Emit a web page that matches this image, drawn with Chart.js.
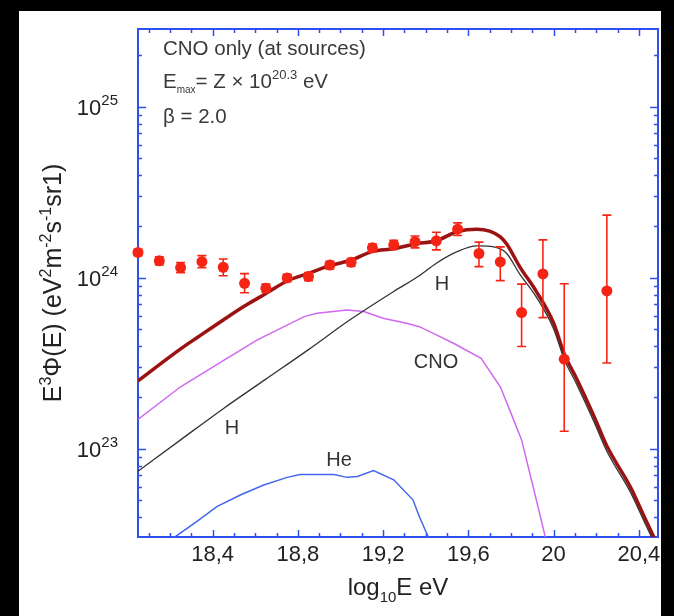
<!DOCTYPE html>
<html>
<head>
<meta charset="utf-8">
<script src="https://cdn.jsdelivr.net/npm/chart.js@4.4.1/dist/chart.umd.min.js"></script>
<style>
  html, body { margin: 0; padding: 0; background: #000; }
  #chart { display: block; }
</style>
</head>
<body>
<canvas id="chart" width="674" height="616"></canvas>
<script>
// Auger spectrum points: log10(E/eV) and E^3 flux (eV^2 m^-2 s^-1 sr^-1)
const augerLogE = [18.05, 18.15, 18.25, 18.35, 18.45, 18.55, 18.65, 18.75, 18.85, 18.95, 19.05,
                   19.15, 19.25, 19.35, 19.45, 19.55, 19.65, 19.75, 19.85, 19.95, 20.05, 20.25];
const augerFlux = [1.41e24, 1.26e24, 1.15e24, 1.245e24, 1.155e24, 0.93e24, 0.87e24, 1.0e24, 1.02e24, 1.19e24, 1.235e24,
                   1.50e24, 1.56e24, 1.63e24, 1.65e24, 1.93e24, 1.39e24, 1.24e24, 0.627e24, 1.055e24, 0.335e24, 0.84e24];
const augerErrUp = [1.47e24, 1.33e24, 1.23e24, 1.35e24, 1.29e24, 1.06e24, 0.92e24, 1.05e24, 1.075e24, 1.25e24, 1.30e24,
                    1.58e24, 1.66e24, 1.76e24, 1.85e24, 2.10e24, 1.62e24, 1.52e24, 0.92e24, 1.67e24, 0.925e24, 2.33e24];
const augerErrLow = [1.35e24, 1.19e24, 1.075e24, 1.15e24, 1.03e24, 0.82e24, 0.825e24, 0.95e24, 0.965e24, 1.13e24, 1.17e24,
                     1.42e24, 1.47e24, 1.50e24, 1.46e24, 1.77e24, 1.165e24, 0.965e24, 0.397e24, 0.586e24, 0.127e24, 0.318e24];

// model curves
const totalLogE = [18.05, 18.25, 18.33, 18.45, 18.55, 18.65, 18.75, 18.85, 18.95, 19.05, 19.15, 19.25, 19.35, 19.45,
                   19.55, 19.64, 19.70, 19.75, 19.78, 19.84, 19.92, 20.0, 20.05, 20.11, 20.19, 20.25, 20.36, 20.43, 20.49];
const totalFlux = [2.5e23, 3.85e23, 4.5e23, 5.68e23, 6.85e23, 8.1e23, 9.6e23, 1.065e24, 1.18e24, 1.27e24, 1.43e24, 1.48e24, 1.58e24, 1.65e24,
                   1.87e24, 1.93e24, 1.88e24, 1.74e24, 1.58e24, 1.17e24, 8.3e23, 5.45e23, 3.6e23, 2.55e23, 1.55e23, 1.04e23, 6.0e22, 3.9e22, 2.7e22];

const hLogE = [18.05, 18.25, 18.45, 18.65, 18.85, 19.05, 19.25, 19.37, 19.45, 19.55, 19.64, 19.73, 19.78,
               19.84, 19.92, 20.0, 20.05, 20.11, 20.19, 20.25, 20.36, 20.43, 20.49];
const hFlux = [7.4e22, 1.13e23, 1.72e23, 2.56e23, 3.81e23, 5.75e23, 8.34e23, 1.03e24, 1.22e24, 1.43e24, 1.54e24, 1.51e24, 1.39e24,
               1.06e24, 7.7e23, 5.05e23, 3.35e23, 2.37e23, 1.44e23, 0.97e23, 5.6e22, 3.65e22, 2.55e22];

const cnoLogE = [18.05, 18.25, 18.45, 18.61, 18.83, 18.89, 19.03, 19.11, 19.2, 19.31, 19.37, 19.45, 19.53, 19.66,
                 19.75, 19.8, 19.85, 19.9, 19.96, 19.99];
const cnoFlux = [1.49e23, 2.31e23, 3.28e23, 4.34e23, 5.94e23, 6.22e23, 6.5e23, 6.36e23, 5.81e23, 5.43e23, 5.19e23, 4.65e23, 4.15e23, 3.39e23,
                 2.31e23, 1.62e23, 1.13e23, 6.3e22, 3.1e22, 2.4e22];

const heLogE = [18.18, 18.224, 18.33, 18.42, 18.53, 18.64, 18.75, 18.81, 18.97, 19.03, 19.08, 19.155, 19.25, 19.34, 19.37, 19.41, 19.43];
const heFlux = [2.6e22, 3.06e22, 3.8e22, 4.6e22, 5.38e22, 6.15e22, 6.82e22, 7.08e22, 7.08e22, 6.82e22, 6.9e22, 7.47e22, 6.6e22, 5.04e22,
                4.03e22, 3.1e22, 2.6e22];

// axes
const xTickLabels = [18.4, 18.8, 19.2, 19.6, 20.0, 20.4];
const yTickExponents = [23, 24, 25];
const xMin = 18.05, xMax = 20.49;
const yMin = Math.pow(10, 22.485), yMax = Math.pow(10, 25.456);

const textFont = '"Liberation Sans", Arial, Helvetica, sans-serif';
const frameBlue = '#2e50f0';
const pointRed = '#f52516';

const toXY = (xs, ys) => xs.map((x, i) => ({ x: x, y: ys[i] }));

// draws a run of text pieces with their own sizes and vertical shifts
function drawRich(ctx, parts, x, y, align) {
    let total = 0;
    parts.forEach(p => {
        ctx.font = p.size + 'px ' + textFont;
        p.w = ctx.measureText(p.text).width;
        total += p.w;
    });
    let cx = x;
    if (align === 'center') cx = x - total / 2;
    if (align === 'right') cx = x - total;
    ctx.textAlign = 'left';
    ctx.textBaseline = 'alphabetic';
    parts.forEach(p => {
        ctx.font = p.size + 'px ' + textFont;
        ctx.fillText(p.text, cx, y + (p.dy || 0));
        cx += p.w;
    });
}

const decorPlugin = {
    id: 'decor',
    beforeDraw(chart) {
        const ctx = chart.ctx;
        ctx.save();
        ctx.fillStyle = '#000';
        ctx.fillRect(0, 0, chart.width, chart.height);
        ctx.fillStyle = '#fff';
        ctx.fillRect(19, 11, 642, 605);
        ctx.restore();
    },
    beforeDatasetsDraw(chart) {
        const ctx = chart.ctx;
        const a = chart.chartArea;
        const xs = chart.scales.x, ys = chart.scales.y;
        ctx.save();
        ctx.strokeStyle = frameBlue;
        ctx.lineWidth = 2;
        ctx.strokeRect(a.left, a.top, a.right - a.left, a.bottom - a.top);
        ctx.lineWidth = 1.5;
        ctx.beginPath();
        // x ticks, every 0.1, longer at labelled values
        for (let i = 181; i <= 204; i++) {
            const v = i / 10;
            const px = Math.round(xs.getPixelForValue(v)) + 0.5;
            const major = xTickLabels.some(t => Math.abs(t - v) < 1e-6);
            const len = major ? 7 : 4;
            ctx.moveTo(px, a.bottom); ctx.lineTo(px, a.bottom - len);
            ctx.moveTo(px, a.top); ctx.lineTo(px, a.top + len);
        }
        // y ticks at k * 10^n
        for (let e = 22; e <= 25; e++) {
            for (let k = 1; k <= 9; k++) {
                const v = k * Math.pow(10, e);
                if (v < yMin || v > yMax) continue;
                const py = Math.round(ys.getPixelForValue(v)) + 0.5;
                const len = k === 1 ? 8 : 4;
                ctx.moveTo(a.left, py); ctx.lineTo(a.left + len, py);
                ctx.moveTo(a.right, py); ctx.lineTo(a.right - len, py);
            }
        }
        ctx.stroke();
        ctx.restore();
    },
    afterDatasetsDraw(chart) {
        const ctx = chart.ctx;
        const xs = chart.scales.x, ys = chart.scales.y;
        ctx.save();
        ctx.strokeStyle = pointRed;
        ctx.lineWidth = 1.6;
        ctx.beginPath();
        augerLogE.forEach((lx, i) => {
            const px = xs.getPixelForValue(lx);
            const yTop = ys.getPixelForValue(augerErrUp[i]);
            const yBot = ys.getPixelForValue(augerErrLow[i]);
            ctx.moveTo(px, yTop); ctx.lineTo(px, yBot);
            ctx.moveTo(px - 4.5, yTop); ctx.lineTo(px + 4.5, yTop);
            ctx.moveTo(px - 4.5, yBot); ctx.lineTo(px + 4.5, yBot);
        });
        ctx.stroke();
        ctx.restore();
    },
    afterDraw(chart) {
        const ctx = chart.ctx;
        const ys = chart.scales.y;
        ctx.save();
        ctx.fillStyle = '#222';
        // y tick labels 10^n
        yTickExponents.forEach(e => {
            const py = ys.getPixelForValue(Math.pow(10, e));
            drawRich(ctx, [{ text: '10', size: 22 }, { text: String(e), size: 15, dy: -10 }], 118, py + 8, 'right');
        });
        // axis titles
        drawRich(ctx, [{ text: 'log', size: 24 }, { text: '10', size: 15, dy: 7 }, { text: 'E eV', size: 24 }], 398, 595, 'center');
        ctx.save();
        ctx.translate(61, 283);
        ctx.rotate(-Math.PI / 2);
        drawRich(ctx, [
            { text: 'E', size: 25 }, { text: '3', size: 16, dy: -10 },
            { text: 'Φ(E) (eV', size: 25 }, { text: '2', size: 16, dy: -10 },
            { text: 'm', size: 25 }, { text: '-2', size: 16, dy: -10 },
            { text: 's', size: 25 }, { text: '-1', size: 16, dy: -10 },
            { text: 'sr1)', size: 25 }
        ], 0, 0, 'center');
        ctx.restore();
        // annotation block
        ctx.fillStyle = '#3a3a3a';
        drawRich(ctx, [{ text: 'CNO only (at sources)', size: 20.5 }], 163, 55, 'left');
        drawRich(ctx, [
            { text: 'E', size: 20.5 }, { text: 'max', size: 10, dy: 5 },
            { text: '= Z × 10', size: 20.5 }, { text: '20.3', size: 13, dy: -9 },
            { text: ' eV', size: 20.5 }
        ], 163, 88, 'left');
        drawRich(ctx, [{ text: 'β = 2.0', size: 20.5 }], 163, 123, 'left');
        // curve labels
        ctx.fillStyle = '#333';
        drawRich(ctx, [{ text: 'H', size: 20 }], 442, 290, 'center');
        drawRich(ctx, [{ text: 'CNO', size: 20 }], 436, 368, 'center');
        drawRich(ctx, [{ text: 'H', size: 20 }], 232, 434, 'center');
        drawRich(ctx, [{ text: 'He', size: 20 }], 339, 466, 'center');
        ctx.restore();
    }
};

new Chart(document.getElementById('chart'), {
    type: 'scatter',
    data: {
        datasets: [
            {
                label: 'Auger',
                data: toXY(augerLogE, augerFlux),
                pointRadius: 5.5,
                pointBackgroundColor: pointRed,
                pointBorderWidth: 0,
                showLine: false,
                clip: false
            },
            {
                label: 'H',
                data: toXY(hLogE, hFlux),
                showLine: true,
                borderColor: '#333333',
                borderWidth: 1.3,
                pointRadius: 0,
                cubicInterpolationMode: 'monotone',
                clip: 0
            },
            {
                label: 'total',
                data: toXY(totalLogE, totalFlux),
                showLine: true,
                borderColor: '#9c1212',
                borderWidth: 3.5,
                pointRadius: 0,
                cubicInterpolationMode: 'monotone',
                clip: 0
            },
            {
                label: 'CNO',
                data: toXY(cnoLogE, cnoFlux),
                showLine: true,
                borderColor: '#d068f0',
                borderWidth: 1.5,
                pointRadius: 0,
                clip: 0
            },
            {
                label: 'He',
                data: toXY(heLogE, heFlux),
                showLine: true,
                borderColor: '#4466ee',
                borderWidth: 1.5,
                pointRadius: 0,
                clip: 0
            }
        ]
    },
    options: {
        responsive: false,
        animation: false,
        devicePixelRatio: 1,
        layout: { padding: { left: 0, top: 29, right: 16, bottom: 0 } },
        plugins: { legend: { display: false }, tooltip: { enabled: false } },
        scales: {
            x: {
                type: 'linear',
                min: xMin,
                max: xMax,
                afterBuildTicks: (scale) => {
                    scale.ticks = xTickLabels.map(v => ({ value: v }));
                },
                afterFit: (scale) => { scale.height = 79; },
                grid: { display: false, drawTicks: false },
                border: { display: false },
                ticks: {
                    autoSkip: false,
                    maxRotation: 0,
                    padding: 5,
                    color: '#222',
                    font: { family: textFont, size: 22 },
                    callback: (v) => Number.isInteger(v) ? String(v) : v.toFixed(1).replace('.', ',')
                }
            },
            y: {
                type: 'logarithmic',
                min: yMin,
                max: yMax,
                afterFit: (scale) => { scale.width = 138; },
                grid: { display: false, drawTicks: false },
                border: { display: false },
                ticks: { display: false }
            }
        }
    },
    plugins: [decorPlugin]
});
</script>
</body>
</html>
